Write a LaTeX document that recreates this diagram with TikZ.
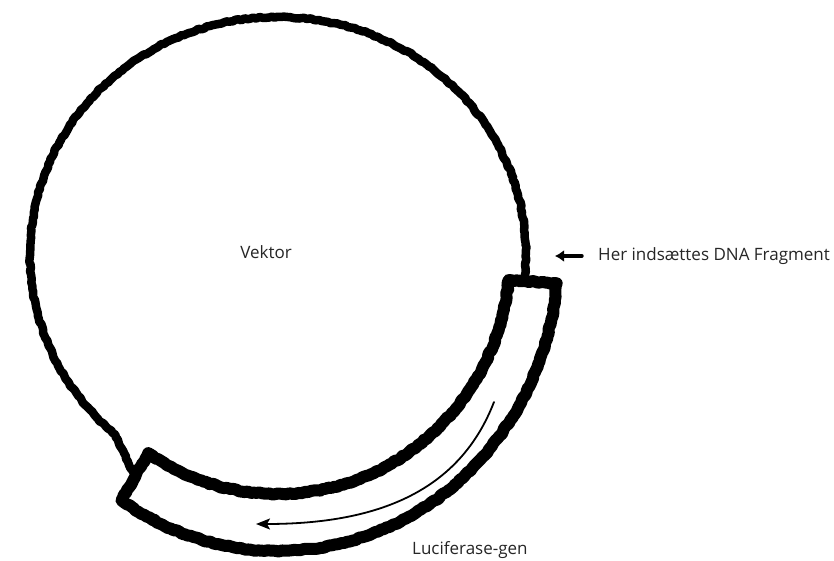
\documentclass[tikz,border=0pt]{standalone}
\usepackage{fontspec}
\setmainfont{Open Sans}
\usetikzlibrary{arrows.meta,calc,positioning,decorations.pathmorphing}

\begin{document}
\begin{tikzpicture}[x=1pt,y=-1pt,>=Latex,line cap=round,line join=round]
\useasboundingbox[fill=white] (0,0) rectangle (834,561);
\pgfmathsetseed{7}
\tikzset{rough/.style={decorate,decoration={random steps,segment length=3pt,amplitude=0.8pt}},ring/.style={draw=black,line width=8.5pt,rough},insert/.style={draw=black,line width=12pt,rough},pointer/.style={draw=black,line width=3.4pt,-{Latex[length=9pt,width=12pt]}},readdir/.style={draw=black,line width=1.8pt,-{Stealth[length=14pt,width=11pt,inset=3pt]}},lbl/.style={font=\fontsize{17}{20}\selectfont,text=black!85,inner sep=0pt}}
\coordinate (ori) at (278,255);
\coordinate (gA) at ($(ori)+(-6:232pt and 239pt)$);
\coordinate (gB) at ($(ori)+(-124:232pt and 239pt)$);
\coordinate (gC) at ($(ori)+(-124:280pt and 296pt)$);
\coordinate (gMid) at ($(gB)!0.5!(gC)$);
% vector ring
\draw[ring] ($(ori)+(-5.5:248pt and 238pt)$) arc[start angle=-5.5,end angle=229,x radius=248pt,y radius=238pt] -- (gMid);
% inserted gene
\draw[insert] (gA) arc[start angle=-6,end angle=-124,x radius=232pt,y radius=239pt] -- (gC) arc[start angle=-124,end angle=-5.5,x radius=280pt,y radius=296pt] -- cycle;
\coordinate (arrS) at (494,402);
\coordinate (arrE) at (256,524);
\draw[readdir] (arrS) .. controls (460,490) and (380,524) .. (arrE);
\node[lbl] (vecLbl) at (266,252) {Vektor};
\node[lbl,anchor=west] (fragLbl) at (598,256) {Her indsættes DNA Fragment};
\node[lbl,anchor=west] (lucLbl) at (412,550) {Luciferase-gen};
\coordinate (insTip) at (555,256);
\draw[pointer] ([xshift=-16pt]fragLbl.west) -- (insTip);
\end{tikzpicture}
\end{document}
